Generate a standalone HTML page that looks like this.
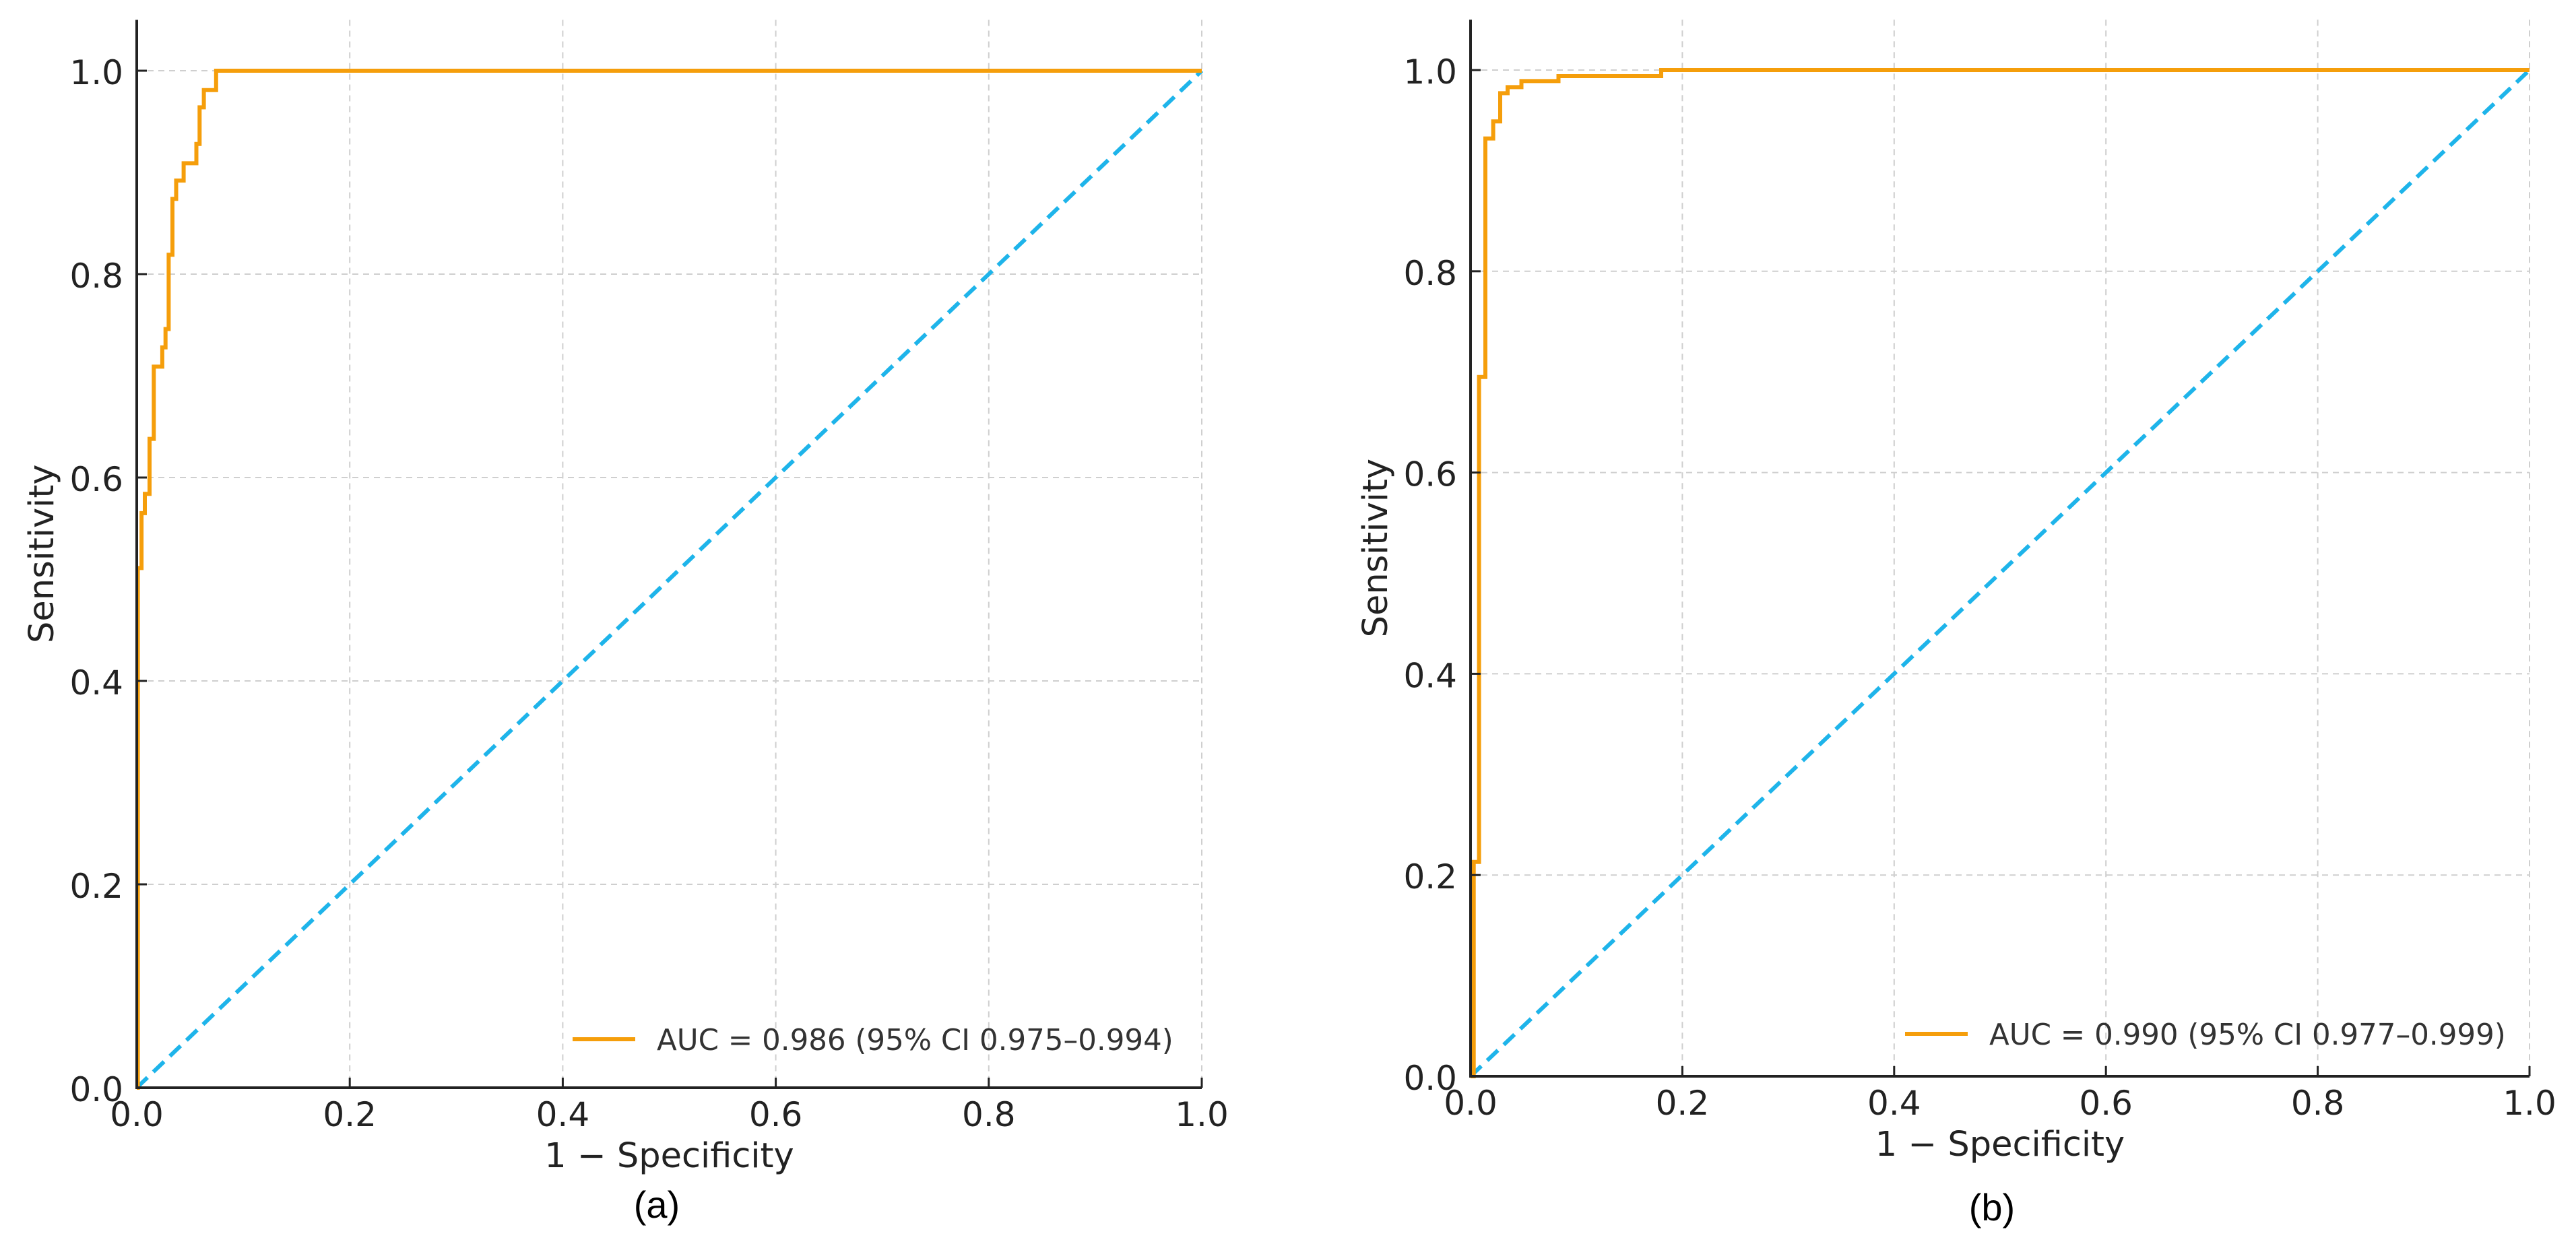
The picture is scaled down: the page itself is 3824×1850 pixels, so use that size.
<!DOCTYPE html>
<html><head><meta charset="utf-8"><style>
html,body{margin:0;padding:0;background:#fff;}
svg{display:block;}
text{font-family:"DejaVu Sans","Liberation Sans",sans-serif;fill:#222;}
</style></head><body>
<svg id="fig" width="3824" height="1850" viewBox="0 0 3824 1850" xmlns="http://www.w3.org/2000/svg"></svg>
<script>
// Panel (a) ROC steps: [fpr, tpr]
const rocA_fpr = [0, 0.001, 0.001, 0.0045, 0.0045, 0.0076, 0.0076, 0.012, 0.012, 0.016, 0.016, 0.024, 0.024, 0.027, 0.027, 0.030, 0.030, 0.0335, 0.0335, 0.037, 0.037, 0.044, 0.044, 0.056, 0.056, 0.059, 0.059, 0.063, 0.063, 0.0745, 0.0745, 1.0];
const rocA_tpr = [0, 0, 0.511, 0.511, 0.565, 0.565, 0.584, 0.584, 0.638, 0.638, 0.709, 0.709, 0.728, 0.728, 0.746, 0.746, 0.819, 0.819, 0.874, 0.874, 0.892, 0.892, 0.909, 0.909, 0.928, 0.928, 0.964, 0.964, 0.981, 0.981, 1.0, 1.0];
// Panel (b) ROC steps
const rocB_fpr = [0, 0.003, 0.003, 0.008, 0.008, 0.014, 0.014, 0.0214, 0.0214, 0.028, 0.028, 0.035, 0.035, 0.048, 0.048, 0.083, 0.083, 0.18, 0.18, 1.0];
const rocB_tpr = [0, 0, 0.213, 0.213, 0.695, 0.695, 0.932, 0.932, 0.949, 0.949, 0.977, 0.977, 0.983, 0.983, 0.989, 0.989, 0.994, 0.994, 1.0, 1.0];
const chanceX = [0, 1];
const chanceY = [0, 1];
const xTicks = [0, 0.2, 0.4, 0.6, 0.8, 1.0];
const yTicks = [0, 0.2, 0.4, 0.6, 0.8, 1.0];
const tickLabels = ["0.0", "0.2", "0.4", "0.6", "0.8", "1.0"];
const legendA = "AUC = 0.986 (95% CI 0.975\u20130.994)";
const legendB = "AUC = 0.990 (95% CI 0.977\u20130.999)";

const NS = "http://www.w3.org/2000/svg";
const svg = document.getElementById('fig');
function mk(tag, attrs, parent) {
  const e = document.createElementNS(NS, tag);
  for (const k in attrs) e.setAttribute(k, attrs[k]);
  (parent || svg).appendChild(e);
  return e;
}

function panel(cfg) {
  const g = mk('g', {});
  
  
  const sx = v => cfg.x0 + (cfg.x1 - cfg.x0) * v;
  const sy = v => cfg.y0 - (cfg.y0 - cfg.y1) * v;
  const top = sy(1.05);
  xTicks.forEach((t, i) => {
    if (t === 0) return;
    const l = mk('line', {x1: sx(t), x2: sx(t), y1: top, y2: cfg.y0, stroke: '#cfcfcf', 'stroke-width': 2, 'stroke-dasharray': '9,7'}, g);
    
    
  });
  yTicks.forEach((t, i) => {
    if (t === 0) return;
    const l = mk('line', {x1: cfg.x0, x2: sx(1), y1: sy(t), y2: sy(t), stroke: '#cfcfcf', 'stroke-width': 2, 'stroke-dasharray': '9,7'}, g);
    
    
  });
  const ch = mk('line', {x1: sx(chanceX[0]), y1: sy(chanceY[0]), x2: sx(chanceX[1]), y2: sy(chanceY[1]), stroke: '#1eb4ea', 'stroke-width': 6, 'stroke-dasharray': '22,12'}, g);
  
  
  const pts = cfg.fx.map((v, i) => sx(v).toFixed(1) + ',' + sy(cfg.fy[i]).toFixed(1)).join(' ');
  const roc = mk('polyline', {points: pts, fill: 'none', stroke: '#f59e0b', 'stroke-width': 6, 'stroke-linejoin': 'miter'}, g);
  
  
  const ax = mk('path', {d: `M${cfg.x0},${top} L${cfg.x0},${cfg.y0} L${sx(1)},${cfg.y0}`, fill: 'none', stroke: '#222', 'stroke-width': 4}, g);
  
  
  xTicks.forEach((t, i) => {
    mk('line', {x1: sx(t), x2: sx(t), y1: cfg.y0, y2: cfg.y0 - 15, stroke: '#222', 'stroke-width': 3}, g);
    const tx = mk('text', {x: sx(t), y: cfg.y0 + 57, 'font-size': 50, 'text-anchor': 'middle'}, g);
    tx.textContent = tickLabels[i];
    
    
  });
  yTicks.forEach((t, i) => {
    mk('line', {x1: cfg.x0, x2: cfg.x0 + 15, y1: sy(t), y2: sy(t), stroke: '#222', 'stroke-width': 3}, g);
    const tx = mk('text', {x: cfg.x0 - 20, y: sy(t) + 20, 'font-size': 50, 'text-anchor': 'end'}, g);
    tx.textContent = tickLabels[i];
    
    
  });
  const xl = mk('text', {x: (cfg.x0 + sx(1)) / 2, y: cfg.y0 + 118, 'font-size': 51, 'text-anchor': 'middle'}, g);
  xl.textContent = '1 \u2212 Specificity';
  
  
  const ycx = cfg.x0 - 124, ycy = (cfg.y0 + top) / 2;
  const yl = mk('text', {x: ycx, y: ycy, 'font-size': 51, 'text-anchor': 'middle', transform: `rotate(-90 ${ycx} ${ycy})`}, g);
  yl.textContent = 'Sensitivity';
  
  
  const lg = mk('g', {}, g);
  
  
  mk('line', {x1: cfg.legX, x2: cfg.legX + 93, y1: cfg.legY, y2: cfg.legY, stroke: '#f59e0b', 'stroke-width': 6}, lg);
  const lt = mk('text', {x: cfg.legX + 125, y: cfg.legY + 16, 'font-size': 43.5}, lg);
  lt.setAttribute('style', 'fill:#333');
  lt.textContent = cfg.legend;
  const cap = mk('text', {x: cfg.capX, y: cfg.capY, 'font-size': 56, 'text-anchor': 'middle'}, g);
  cap.setAttribute('style', 'font-family:"Liberation Sans",sans-serif;fill:#000');
  cap.textContent = cfg.caption;
  
  
}

panel({name: 'roc-panel-a', x0: 203, x1: 1784, y0: 1615, y1: 105, fx: rocA_fpr, fy: rocA_tpr, legend: legendA, legX: 850, legY: 1543, capX: 975, capY: 1808, caption: '(a)'});
panel({name: 'roc-panel-b', x0: 2183, x1: 3755, y0: 1598, y1: 104, fx: rocB_fpr, fy: rocB_tpr, legend: legendB, legX: 2828, legY: 1535, capX: 2957, capY: 1812, caption: '(b)'});
</script>
</body></html>
